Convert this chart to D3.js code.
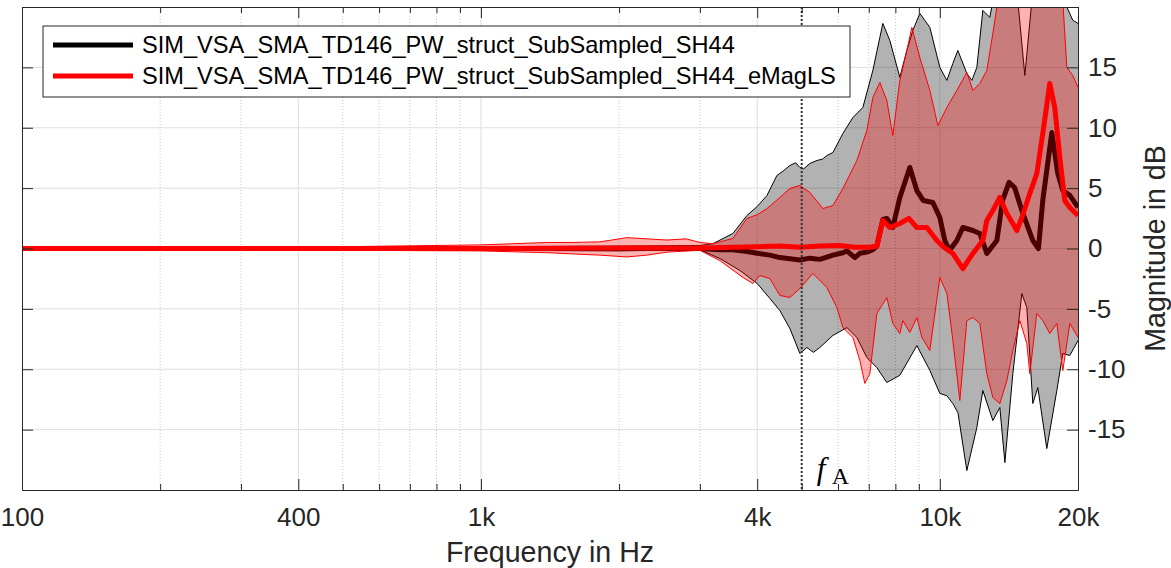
<!DOCTYPE html>
<html><head><meta charset="utf-8">
<script src="https://cdn.jsdelivr.net/npm/d3@7"></script>
<style>
html,body{margin:0;padding:0;background:#fff}
svg{display:block}
</style>
</head><body>
<svg id="chart" width="1171" height="568"></svg>
<script>
// ---------- data ----------
const seriesNames = ["SIM_VSA_SMA_TD146_PW_struct_SubSampled_SH44",
                     "SIM_VSA_SMA_TD146_PW_struct_SubSampled_SH44_eMagLS"];
const xLabelText = "Frequency in Hz";
const yLabelText = "Magnitude in dB";
const xMajorTicks = [100, 400, 1000, 4000, 10000, 20000];
const xMajorLabels = ["100", "400", "1k", "4k", "10k", "20k"];
const xMinorTicks = [200, 300, 500, 600, 700, 800, 900, 2000, 3000, 5000, 6000, 7000, 8000, 9000];
const yTicks = [-15, -10, -5, 0, 5, 10, 15];
const yTickLabels = ["-15", "-10", "-5", "0", "5", "10", "15"];
const aliasFreq = 5000;

// [frequency in Hz, magnitude in dB]
const blackUpper = [[100,0.12],[300,0.12],[1000,0.15],[2000,0.2],[3000,0.25],[3203,0.4],[3540,1.24],[3798,2.73],[4000,3.48],[4200,4.39],[4415,6.05],[4550,6.4],[4713,6.88],[4850,7.1],[4955,6.71],[5050,6.6],[5210,7.04],[5396,7.29],[5550,7.4],[5674,7.7],[5848,7.95],[6148,9.53],[6465,10.85],[6796,11.68],[7145,14.75],[7512,18.64],[7781,17.23],[8181,14.17],[8474,16.4],[8734,18.06],[9044,19.47],[9511,18.31],[10000,15.0],[10360,13.92],[10674,15.33],[10945,16.4],[11450,14.5],[11743,13.92],[12040,15.0],[12407,19.72],[12850,19.14],[13178,21.4],[13858,23],[14424,22],[14790,20.5],[15317,14.33],[15864,20.5],[16514,23],[18256,22],[18909,20.0],[19486,18.9],[20000,18.64]];
const blackLower = [[100,-0.12],[1000,-0.15],[2000,-0.2],[3000,-0.1],[3317,-0.83],[3667,-1.82],[4000,-2.9],[4263,-4.14],[4481,-5.14],[4713,-6.63],[4955,-8.7],[5132,-8.2],[5300,-8.6],[5477,-8.2],[5848,-7.2],[6272,-6.55],[6595,-7.37],[6934,-9.03],[7289,-9.86],[7664,-11.1],[8181,-10.5],[8911,-8.04],[9511,-10.1],[10000,-12.0],[10360,-12.2],[10674,-12.84],[10950,-13.6],[11450,-18.39],[12040,-14.83],[12407,-11.76],[13046,-14.25],[13512,-13.17],[13858,-17.73],[14424,-10.36],[15089,-3.73],[15471,-4.89],[15944,-12.84],[16347,-11.52],[17102,-16.57],[17985,-11.76],[18532,-8.7],[19194,-8.86],[20000,-7.62]];
const redUpper = [[100,0.12],[500,0.15],[1000,0.3],[1400,0.5],[1586,0.5],[1817,0.55],[2080,0.9],[2300,0.8],[2543,0.7],[2800,0.8],[3000,0.5],[3203,0.4],[3540,0.83],[3798,2.49],[4000,2.8],[4200,3.3],[4481,4.23],[4713,4.97],[4955,5.22],[5210,4.64],[5561,3.31],[5848,3.56],[6148,4.97],[6595,7.29],[6934,9.78],[7145,12.51],[7400,13.75],[7664,12.26],[7898,9.36],[8181,13.92],[8474,16.4],[8690,18.31],[9044,15.82],[9511,13.09],[9900,10.19],[10360,11.68],[10890,13.09],[11450,14.58],[11802,13.09],[12222,13.67],[12658,14.75],[13046,17.81],[13378,20.5],[13858,23],[16514,24],[18256,22],[18532,20.5],[18909,15.0],[19486,14.33],[20000,13.34]];
const redLower = [[100,-0.12],[500,-0.15],[1000,-0.2],[1400,-0.35],[1586,-0.45],[1817,-0.55],[2080,-0.7],[2300,-0.55],[2543,-0.3],[3000,-0.15],[3317,-1.0],[3723,-2.4],[3914,-2.9],[4053,-2.24],[4263,-2.49],[4481,-3.89],[4713,-4.06],[4955,-3.31],[5289,-2.07],[5674,-3.23],[5966,-4.89],[6148,-6.55],[6465,-7.37],[6694,-9.28],[6864,-11.18],[7039,-10.36],[7289,-5.39],[7664,-4.06],[7898,-6.21],[8181,-7.04],[8306,-5.97],[8602,-6.96],[8911,-5.72],[9138,-7.37],[9511,-8.45],[10000,-2.4],[10360,-3.73],[10674,-7.62],[11055,-12.59],[11450,-5.97],[11802,-5.72],[12222,-6.21],[12658,-10.36],[13046,-12.34],[13512,-12.84],[13997,-10.94],[14424,-8.45],[14937,-5.97],[15471,-7.87],[15705,-10.36],[16265,-5.39],[16763,-5.97],[17362,-7.04],[17985,-6.21],[18532,-10.11],[19194,-6.21],[20000,-7.37]];
const blackMean = [[100,0],[1000,0],[2000,0],[3000,0],[3317,-0.1],[3540,-0.1],[3800,-0.25],[4000,-0.4],[4263,-0.55],[4481,-0.75],[4713,-0.85],[4955,-0.95],[5210,-0.8],[5477,-0.9],[5848,-0.55],[6148,-0.35],[6272,-0.2],[6529,-0.75],[6694,-0.4],[6934,-0.3],[7145,-0.1],[7289,0.2],[7512,2.4],[7664,2.49],[7898,1.74],[8181,4.23],[8602,6.71],[8911,4.8],[9200,3.98],[9655,3.81],[10000,2.57],[10250,0.66],[10500,-0.17],[10890,0.66],[11222,1.74],[11802,1.49],[12222,1.24],[12658,-0.41],[13311,0.66],[13700,3.98],[14150,5.47],[14550,5.05],[15165,2.9],[15944,0.66],[16400,0.0],[16763,4.0],[17538,9.6],[18076,6.2],[18532,4.8],[19194,4.4],[20000,3.4]];
const redMean = [[100,0],[1000,0],[2000,0.05],[3000,0.05],[3540,0.1],[4000,0.15],[4481,0.2],[4955,0.1],[5477,0.2],[6055,0.25],[6529,0.1],[7039,0.1],[7289,0.2],[7512,2.32],[7781,1.74],[8181,2.07],[8560,2.49],[8911,1.74],[9370,1.74],[9851,0.66],[10200,0.1],[10674,-0.41],[11222,-1.66],[11802,-0.41],[12407,0.66],[12658,2.32],[13046,3.15],[13512,4.23],[13997,2.9],[14716,1.49],[15089,2.57],[15705,4.56],[16265,6.21],[16763,9.53],[17362,13.67],[17800,11.68],[18256,7.54],[18720,3.98],[19194,3.4],[20000,2.73]];

// ---------- layout ----------
const L = 22, R = 1078, T = 7, B = 490;
const axisColor = "#262626";
const sans = "'Liberation Sans',Arial,Helvetica,sans-serif";
const serif = "'Liberation Serif','DejaVu Serif','Times New Roman',serif";
const svg = d3.select("#chart");
const x = d3.scaleLog().domain([100, 20000]).range([L, R]);
const y = d3.scaleLinear().domain([-20, 20]).range([B, T]);

svg.append("defs").append("clipPath").attr("id", "plotClip")
  .append("rect").attr("x", L).attr("y", T).attr("width", R - L).attr("height", B - T);

// grid
const grid = svg.append("g");
grid.selectAll(".xminor").data(xMinorTicks).join("line")
  .attr("x1", d => x(d)).attr("x2", d => x(d)).attr("y1", T).attr("y2", B)
  .attr("stroke", "#c4c4c4").attr("stroke-width", 1).attr("stroke-dasharray", "1,2");
grid.selectAll(".xmajor").data(xMajorTicks.slice(1, -1)).join("line")
  .attr("x1", d => x(d)).attr("x2", d => x(d)).attr("y1", T).attr("y2", B)
  .attr("stroke", "#dedede").attr("stroke-width", 1);
grid.selectAll(".ymajor").data(yTicks).join("line")
  .attr("x1", L).attr("x2", R).attr("y1", d => y(d)).attr("y2", d => y(d))
  .attr("stroke", "#dedede").attr("stroke-width", 1);

// data
const plot = svg.append("g").attr("clip-path", "url(#plotClip)");
const line = d3.line().x(d => x(d[0])).y(d => y(d[1]));
const band = (up, lo) => line(up.concat(lo.slice().reverse())) + "Z";

plot.append("path").attr("d", band(blackUpper, blackLower)).attr("fill", "#000").attr("fill-opacity", 0.3).attr("stroke", "none");
plot.append("path").attr("d", line(blackUpper)).attr("fill", "none").attr("stroke", "#000").attr("stroke-width", 1);
plot.append("path").attr("d", line(blackLower)).attr("fill", "none").attr("stroke", "#000").attr("stroke-width", 1);
plot.append("path").attr("d", line(blackMean)).attr("fill", "none").attr("stroke", "#000").attr("stroke-width", 5).attr("stroke-linejoin", "round");
plot.append("path").attr("d", band(redUpper, redLower)).attr("fill", "#ff0000").attr("fill-opacity", 0.3).attr("stroke", "none");
plot.append("path").attr("d", line(redUpper)).attr("fill", "none").attr("stroke", "#ff0000").attr("stroke-width", 1);
plot.append("path").attr("d", line(redLower)).attr("fill", "none").attr("stroke", "#ff0000").attr("stroke-width", 1);
plot.append("path").attr("d", line(redMean)).attr("fill", "none").attr("stroke", "#ff0000").attr("stroke-width", 5).attr("stroke-linejoin", "round");

// aliasing frequency marker
svg.append("line").attr("x1", x(aliasFreq)).attr("x2", x(aliasFreq)).attr("y1", T).attr("y2", B)
  .attr("stroke", "#333").attr("stroke-width", 2).attr("stroke-dasharray", "2,2");
const fa = svg.append("g");
fa.append("text").attr("x", x(aliasFreq) + 15).attr("y", 479)
  .style("font-family", serif).style("font-style", "italic")
  .style("font-size", "31px").attr("fill", "#000").text("f");
fa.append("text").attr("x", x(aliasFreq) + 30).attr("y", 484)
  .style("font-family", serif).style("font-size", "24px").attr("fill", "#000").text("A");

// axes
const styleAxis = g => {
  g.select(".domain").attr("stroke", axisColor).attr("stroke-width", 1);
  g.selectAll(".tick line").attr("stroke", axisColor).attr("stroke-width", 1);
  g.selectAll(".tick text").attr("fill", axisColor).style("font-size", "26px").style("font-family", sans);
};
svg.append("g").attr("transform", `translate(0,${B})`)
  .call(d3.axisBottom(x).tickValues(xMinorTicks).tickFormat("").tickSizeInner(-6).tickSizeOuter(0)).call(styleAxis);
svg.append("g").attr("transform", `translate(0,${T})`)
  .call(d3.axisTop(x).tickValues(xMinorTicks).tickFormat("").tickSizeInner(-6).tickSizeOuter(0)).call(styleAxis);
svg.append("g").attr("transform", `translate(0,${B})`)
  .call(d3.axisBottom(x).tickValues(xMajorTicks).tickFormat((d, i) => xMajorLabels[i]).tickSizeInner(-11).tickSizeOuter(0).tickPadding(18)).call(styleAxis);
svg.append("g").attr("transform", `translate(0,${T})`)
  .call(d3.axisTop(x).tickValues(xMajorTicks).tickFormat("").tickSizeInner(-11).tickSizeOuter(0)).call(styleAxis);
svg.append("g").attr("transform", `translate(${R},0)`)
  .call(d3.axisRight(y).tickValues(yTicks).tickFormat((d, i) => yTickLabels[i]).tickSizeInner(-11).tickSizeOuter(0).tickPadding(10)).call(styleAxis);
svg.append("g").attr("transform", `translate(${L},0)`)
  .call(d3.axisLeft(y).tickValues(yTicks).tickFormat("").tickSizeInner(-11).tickSizeOuter(0)).call(styleAxis);

// axis labels
svg.append("text").attr("x", (L + R) / 2).attr("y", 562).attr("text-anchor", "middle")
  .style("font-family", sans).style("font-size", "28.6px").attr("fill", axisColor).text(xLabelText);
svg.append("text").attr("transform", `translate(1165,${(T + B) / 2}) rotate(-90)`).attr("text-anchor", "middle")
  .style("font-family", sans).style("font-size", "28.6px").attr("fill", axisColor).text(yLabelText);

// legend
const lg = svg.append("g");
lg.append("rect").attr("x", 43).attr("y", 26).attr("width", 807).attr("height", 71)
  .attr("fill", "#fff").attr("stroke", axisColor).attr("stroke-width", 1);
const legendColors = ["#000000", "#ff0000"];
const legendRows = [45, 76];
seriesNames.forEach((name, i) => {
  lg.append("line").attr("x1", 53).attr("x2", 133).attr("y1", legendRows[i]).attr("y2", legendRows[i])
    .attr("stroke", legendColors[i]).attr("stroke-width", 5);
  lg.append("text").attr("x", 142).attr("y", legendRows[i]).attr("dy", "0.35em")
    .style("font-family", sans).style("font-size", "23.6px").attr("fill", "#000").text(name);
});
</script>
</body></html>
